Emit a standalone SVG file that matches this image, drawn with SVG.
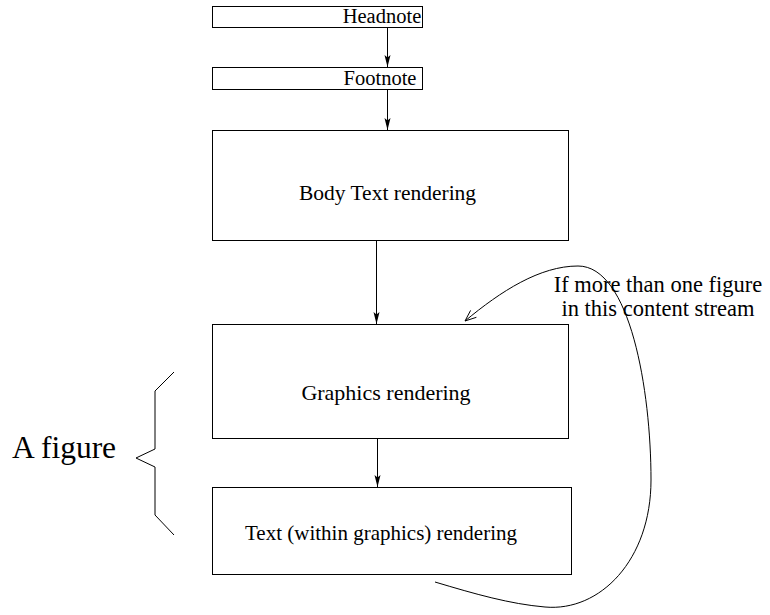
<svg xmlns="http://www.w3.org/2000/svg" width="770" height="615" viewBox="0 0 770 615">
<style>
  .box { fill: #fff; stroke: #000; stroke-width: 1; }
  .t { font-family: "Liberation Serif", "Times New Roman", serif; fill: #000; }
  .c { fill: none; stroke: #000; stroke-width: 1; }
</style>
<defs>
  <marker id="ah" markerUnits="userSpaceOnUse" markerWidth="16" markerHeight="10" refX="12" refY="5" orient="auto" viewBox="0 0 16 10">
    <path d="M12,5 L0,2 L2.5,5 L0,8 Z" fill="#000"/>
  </marker>
</defs>
<rect width="770" height="615" fill="#fff"/>
<g id="headnote">
  <rect class="box" x="212.5" y="6.5" width="210" height="21"/>
  <text class="t" x="382" y="23" font-size="20.5" text-anchor="middle">Headnote</text>
</g>
<g id="footnote">
  <rect class="box" x="212.5" y="67.5" width="210" height="22"/>
  <text class="t" x="380" y="85" font-size="20.5" text-anchor="middle">Footnote</text>
</g>
<g id="body">
  <rect class="box" x="212.5" y="130.5" width="356" height="110"/>
  <text class="t" x="387.5" y="200" font-size="21.5" text-anchor="middle">Body Text rendering</text>
</g>
<g id="graphics">
  <rect class="box" x="212.5" y="324.5" width="356" height="114"/>
  <text class="t" x="386" y="400" font-size="22" text-anchor="middle">Graphics rendering</text>
</g>
<g id="textgfx">
  <rect class="box" x="212.5" y="487.5" width="359" height="87"/>
  <text class="t" x="381" y="540" font-size="21" text-anchor="middle">Text (within graphics) rendering</text>
</g>
<g id="figure-label">
  <path class="c" d="M174,372 L155,391 L155,449 L136,458 L155,467 L155,515 L174,535"/>
  <text class="t" x="12" y="458" font-size="31.5">A figure</text>
</g>
<g id="loop-label">
  <text class="t" x="658" y="292" font-size="22.5" text-anchor="middle">If more than one figure</text>
  <text class="t" x="658" y="316" font-size="22.5" text-anchor="middle">in this content stream</text>
</g>
<g id="connectors">
  <line class="c" x1="387.5" y1="27" x2="387.5" y2="67" marker-end="url(#ah)"/>
  <line class="c" x1="387.5" y1="90" x2="387.5" y2="130" marker-end="url(#ah)"/>
  <line class="c" x1="376.5" y1="241" x2="376.5" y2="324" marker-end="url(#ah)"/>
  <line class="c" x1="377.5" y1="439" x2="377.5" y2="487" marker-end="url(#ah)"/>
  <path class="c" d="M435,582 C475,594 510,604 545,607 C600,612 651,560 651,480 C651,390 630,266 578,266 C540,266 501,291 465,321"/>
  <polyline class="c" points="476.4,317.3 465,321 470.6,310.4"/>
</g>
</svg>
